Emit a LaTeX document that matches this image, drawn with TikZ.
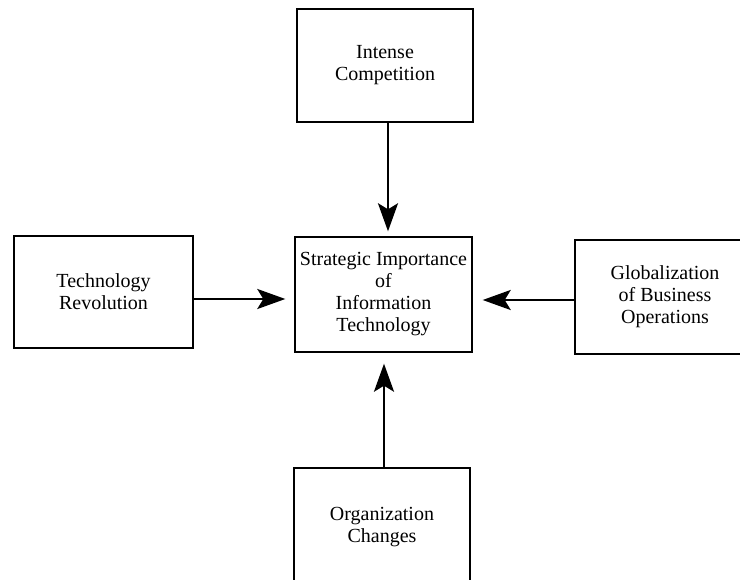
\documentclass[tikz,border=0pt]{standalone}
\usepackage{fontspec}
\setmainfont{Liberation Serif}
\usetikzlibrary{arrows.meta}
\begin{document}
\begin{tikzpicture}[x=1pt,y=-1pt,
  box/.style={draw=black,line width=1.4pt,rectangle,inner sep=0pt,align=center,
    font=\fontsize{20}{22}\selectfont},
  arr/.style={line width=2.4pt,-{Stealth[length=28pt,width=20pt,inset=6pt]}}]
\useasboundingbox (0,0) rectangle (740,580);
\clip (0,0) rectangle (740,580);
\node[box,minimum width=176pt,minimum height=113pt] (top) at (385,65.5) {Intense\\Competition};
\node[box,minimum width=177pt,minimum height=115pt] (ctr) at (383.5,294.5) {Strategic Importance\\of\\Information\\Technology};
\node[box,minimum width=179pt,minimum height=112pt] (lft) at (103.5,292) {Technology\\Revolution};
\node[box,minimum width=180pt,minimum height=114pt] (rgt) at (665,297) {Globalization\\of Business\\Operations};
\node[box,minimum width=176pt,minimum height=118pt] (bot) at (382,527) {Organization\\Changes};
\draw[arr] ([xshift=3pt]top.south) -- ([xshift=4.5pt,yshift=5pt]ctr.north);
\draw[arr] ([xshift=2pt]bot.north) -- ([xshift=0.5pt,yshift=-11pt]ctr.south);
\draw[arr] ([yshift=-7pt]lft.east) -- ([xshift=-9pt,yshift=-4.5pt]ctr.west);
\draw[arr] ([yshift=-3pt]rgt.west) -- ([xshift=10pt,yshift=-5.5pt]ctr.east);
\end{tikzpicture}
\end{document}
